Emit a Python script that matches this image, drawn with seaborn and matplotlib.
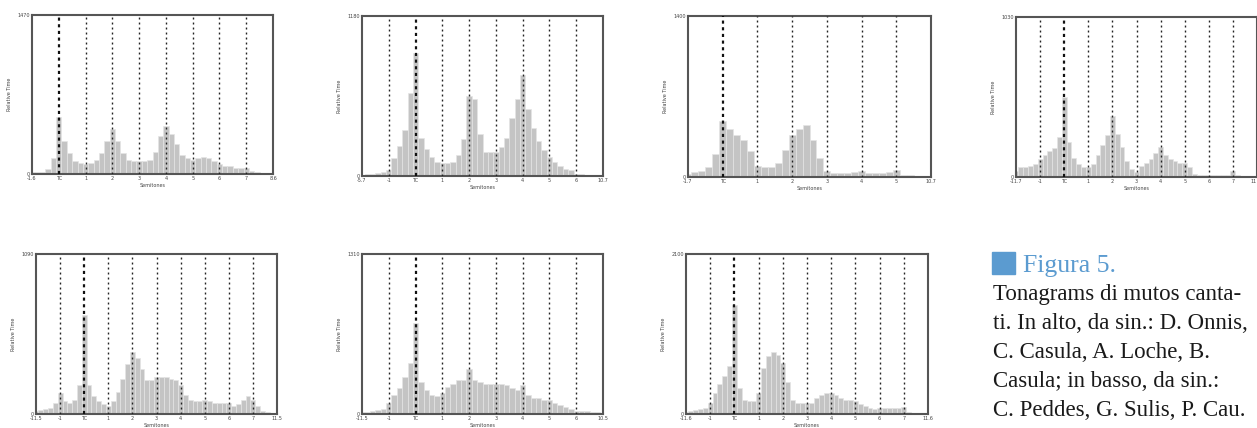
import numpy as np
import pandas as pd
import matplotlib.pyplot as plt
import matplotlib.patches as mpatches
import seaborn as sns

sns.set_style("white")
plt.rcParams['font.family'] = ['DejaVu Sans']

# Alturas del tonagrama (en % del eje y), un valor cada 0.2 semitonos
onnis = [1, 1, 1.5, 3, 10, 36, 21, 13, 8, 7, 6, 7, 9, 13, 21, 28, 21, 13, 9, 8,
         8, 8, 9, 14, 24, 30, 25, 19, 12, 10, 9, 10, 11, 10, 8, 6, 5, 5, 4, 4,
         4, 2, 1, 0.5, 0.3, 0.2]
c_casula = [0.5, 1, 1.5, 2, 2.5, 4, 11, 19, 29, 52, 77, 24, 17, 12, 9, 8, 8, 9, 13, 23,
            50, 48, 26, 15, 15, 15, 18, 24, 36, 48, 63, 42, 30, 22, 16, 12, 9, 6, 4.5, 3.5,
            1.5, 1, 0.5, 0.5, 0.3, 0.3]
loche = [2, 3, 3.5, 6, 14, 35, 30, 26, 23, 16, 7, 6, 6, 9, 17, 26, 30, 32, 23, 12,
         4, 2.5, 2.5, 2.5, 3, 3.5, 2.5, 2.5, 2.5, 3, 4.5, 1.5, 1, 0.5, 0.3, 0.2]
b_casula = [4, 6, 6, 7, 8, 11, 14, 16, 18, 25, 50, 22, 12, 8, 6, 6, 8, 14, 20, 26,
            38, 27, 19, 10, 5, 3, 7, 9, 11, 15, 19, 14, 11, 10, 9, 9, 6, 2, 1, 1,
            1, 1, 1, 1, 1.5, 4, 1, 0.5, 0.3, 0.3, 0.2]
peddes = [2, 2.5, 3, 4, 7, 13, 8, 7, 9, 18, 62, 18, 11, 8, 6, 5, 8, 14, 22, 31,
          39, 35, 28, 21, 21, 23, 23, 23, 22, 21, 18, 12, 9, 8, 8, 9, 8, 7, 7, 7,
          7, 5, 6, 9, 11, 9, 5, 2, 1, 0.5, 0.3]
sulis = [1, 1.5, 2, 2.5, 3, 7, 12, 16, 23, 32, 57, 20, 15, 12, 11, 13, 17, 19, 21, 21,
         28, 21, 20, 19, 19, 19, 19, 18, 16, 15, 18, 12, 10, 10, 9, 9, 7, 5.5, 4.5, 3,
         2, 2, 2, 1.5, 1, 0.5]
cau = [1, 2, 2.5, 3, 4, 7, 13, 19, 24, 30, 68, 16, 9, 8, 8, 13, 29, 36, 39, 37,
       32, 20, 9, 7, 7, 7, 7, 10, 12, 13, 13, 12, 10, 9, 9, 8, 6, 5, 4, 3,
       3.5, 4, 4, 4, 4, 4.5, 1.5, 0.5, 0.3, 0.3, 0.2]

step = 0.2

# Etiquetas de los ejes
tick_onnis = ['-1.6', 'TC', '1', '2', '3', '4', '5', '6', '7', '8.6']
tick_c_casula = ['-5.7', '-1', 'TC', '1', '2', '3', '4', '5', '6', '10.7']
tick_loche = ['-1.7', 'TC', '1', '2', '3', '4', '5', '10.7']
tick_b_casula = ['-11.7', '-1', 'TC', '1', '2', '3', '4', '5', '6', '7', '11']
tick_peddes = ['-11.5', '-1', 'TC', '1', '2', '3', '4', '5', '6', '7', '11.5']
tick_sulis = ['-11.5', '-1', 'TC', '1', '2', '3', '4', '5', '6', '10.5']
tick_cau = ['-11.6', '-1', 'TC', '1', '2', '3', '4', '5', '6', '7', '11.6']
ytop = ['1470', '1180', '1400', '1030', '1090', '1310', '2100']

paneles = [onnis, c_casula, loche, b_casula, peddes, sulis, cau]
ticks = [tick_onnis, tick_c_casula, tick_loche, tick_b_casula, tick_peddes, tick_sulis, tick_cau]
tonica = [1, 2, 1, 2, 2, 2, 2]

# Posiciones en pixeles (izq, der, arriba, abajo)
cajas = [(32, 273, 15, 174), (362, 603, 16, 176), (688, 931, 16, 177), (1016, 1257, 17, 177),
         (36, 277, 254, 414), (362, 603, 254, 414), (686, 928, 254, 414)]

W, H = 1257, 428
fig = plt.figure(figsize=(W / 100, H / 100), dpi=100)

for i, vals in enumerate(paneles):
    l, r, t, b = cajas[i]
    ax = fig.add_axes([l / W, 1 - b / H, (r - l) / W, (b - t) / H])
    n_units = len(ticks[i]) - 1
    centros = np.arange(len(vals)) * step
    df = pd.DataFrame({'semitono': centros, 'tiempo': vals})
    sns.histplot(data=df, x='semitono', weights='tiempo', binwidth=step,
                 binrange=(-step / 2, centros[-1] + step / 2), ax=ax,
                 color='#c4c4c4', edgecolor='#e4e4e4', linewidth=0.5, alpha=1)
    ax.set_xlim(0, n_units)
    ax.set_ylim(0, 100)
    # Lineas de los grados
    for k in range(1, n_units):
        if k == tonica[i]:
            ax.axvline(k, color='#111111', lw=1.6, ls=(0, (1.4, 1.6)), zorder=5)
        else:
            ax.axvline(k, color='#222222', lw=1.0, ls=(0, (1.4, 2.2)), zorder=5)
    ax.set_xticks(range(n_units + 1))
    ax.set_xticklabels(ticks[i], fontsize=3.5, color='#444444')
    if r >= W:
        # la ultima etiqueta queda en el borde de la figura
        ax.get_xticklabels()[-1].set_horizontalalignment('right')
    ax.set_yticks([0, 100])
    ax.set_yticklabels(['0', ytop[i]], fontsize=3.5, color='#444444')
    ax.tick_params(length=0, pad=1.5)
    ax.set_xlabel('Semitones', fontsize=3.5, color='#444444', labelpad=1.5)
    ax.set_ylabel('Relative Time', fontsize=3.5, color='#444444', labelpad=4)
    for s in ax.spines.values():
        s.set_linewidth(1.5)
        s.set_color('#555555')

# Didascalia
fig.patches.append(mpatches.Rectangle((992 / W, 1 - 274 / H), 23 / W, 22 / H,
                                      transform=fig.transFigure, color='#5b9bd0'))
fig.text(1023 / W, 1 - 272 / H, 'Figura 5.', fontsize=18.5, color='#5b9bd0',
         family='Liberation Serif', va='baseline')
lineas = ['Tonagrams di mutos canta-', 'ti. In alto, da sin.: D. Onnis,',
          'C. Casula, A. Loche, B.', 'Casula; in basso, da sin.:',
          'C. Peddes, G. Sulis, P. Cau.']
for j, txt in enumerate(lineas):
    fig.text(993 / W, 1 - (300 + 29 * j) / H, txt, fontsize=16.5, color='#1a1a1a',
             family='Liberation Serif', va='baseline')

plt.savefig('out.png', dpi=100)
